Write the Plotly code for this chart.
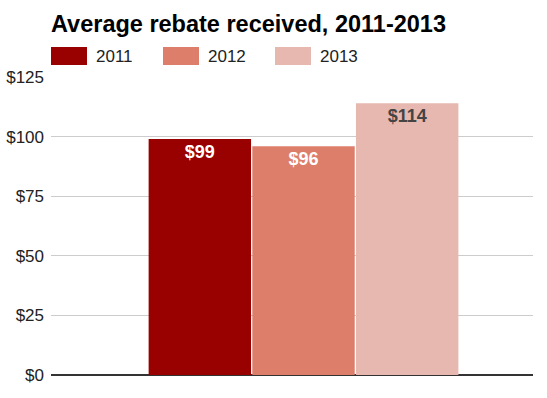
import plotly.graph_objects as go

# ---- data ----
years = ["2011", "2012", "2013"]
rebates = [99, 96, 114]
colors = ["#990000", "#dd7e6b", "#e6b8af"]
label_colors = ["#ffffff", "#ffffff", "#444444"]
y_ticks = [0, 25, 50, 75, 100, 125]
title_text = "Average rebate received, 2011-2013"

W, H = 547, 398
L, R, T, B = 51, 14, 77, 23
PW, PH = W - L - R, H - T - B
FONT = "Liberation Sans, Arial, sans-serif"

fig = go.Figure()
for yr, val, col, lc in zip(years, rebates, colors, label_colors):
    fig.add_trace(go.Bar(
        x=["rebate"], y=[val], name=yr,
        marker=dict(color=col, line=dict(width=0)),
        text=[f"${val}"], textposition="inside", insidetextanchor="end",
        textangle=0, constraintext="none",
        textfont=dict(family=FONT, size=18, color=lc, weight="bold"),
        hoverinfo="skip",
    ))

# custom legend (wide swatches as in the reference)
def px_to_paper_x(px):
    return (px - L) / PW

def px_to_paper_y(py):
    return (H - B - py) / PH

annotations = []
shapes = []
for i, (yr, col) in enumerate(zip(years, colors)):
    x0 = L + i * 112
    shapes.append(dict(type="rect", xref="paper", yref="paper",
                       x0=px_to_paper_x(x0), x1=px_to_paper_x(x0 + 36),
                       y0=px_to_paper_y(65), y1=px_to_paper_y(47),
                       fillcolor=col, line=dict(width=0), layer="above"))
    annotations.append(dict(xref="paper", yref="paper",
                            x=px_to_paper_x(x0 + 43), y=px_to_paper_y(56),
                            xanchor="left", yanchor="middle", showarrow=False,
                            text=yr, font=dict(family=FONT, size=17, color="#222222")))

fig.update_layout(
    template="none",
    width=W, height=H,
    margin=dict(l=L, r=R, t=T, b=B, pad=0, autoexpand=False),
    paper_bgcolor="white", plot_bgcolor="white",
    barmode="group", bargap=0, bargroupgap=0.012,
    showlegend=False,
    title=dict(text=f"<b>{title_text}</b>", xref="container", yref="container",
               x=L / W, xanchor="left", y=1 - 24 / H, yanchor="middle",
               font=dict(family=FONT, size=23.5, color="#000000")),
    xaxis=dict(type="category", range=[-0.8119, 0.7379], showticklabels=False,
               automargin=False,
               showgrid=False, zeroline=False, showline=False, ticks=""),
    yaxis=dict(range=[0, 125], tickvals=y_ticks, ticktext=[f"${v}" for v in y_ticks],
               automargin=False,
               showgrid=True, gridcolor="#cccccc", gridwidth=1,
               zeroline=True, zerolinecolor="#333333", zerolinewidth=1.5,
               showline=False, ticks="", ticklabelstandoff=6,
               tickfont=dict(family=FONT, size=17, color="#222222")),
    shapes=shapes, annotations=annotations,
    font=dict(family=FONT),
)

fig.write_html("out.html",
               config={"displayModeBar": False, "staticPlot": True},
               post_script="document.body.style.margin='0';document.body.style.overflow='hidden';")
